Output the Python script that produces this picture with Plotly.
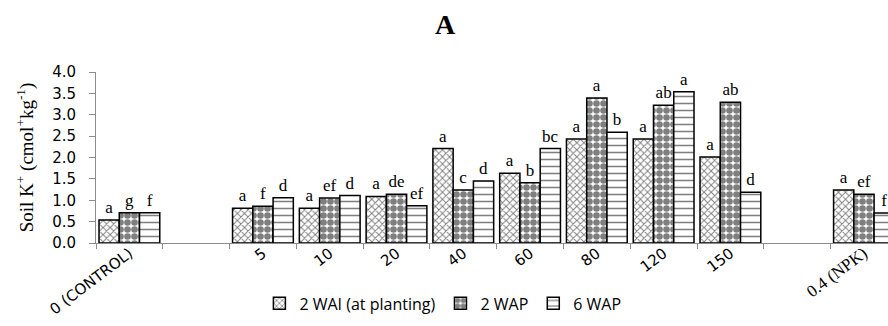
import plotly.graph_objects as go

categories = ["0 (CONTROL)", " ", "5", "10", "20", "40", "60", "80", "120", "150", "  ",
              '<span style="font-family:Liberation Serif;font-size:17px">0.4 (NPK)</span>']

wai2 = [0.54, None, 0.81, 0.81, 1.09, 2.21, 1.63, 2.43, 2.43, 2.01, None, 1.24]
wap2 = [0.71, None, 0.86, 1.05, 1.14, 1.24, 1.41, 3.39, 3.22, 3.29, None, 1.14]
wap6 = [0.71, None, 1.06, 1.11, 0.87, 1.45, 2.21, 2.59, 3.54, 1.19, None, 0.70]

lab_wai2 = ["a", None, "a", "a", "a", "a", "a", "a", "a", "a", None, "a"]
lab_wap2 = ["g", None, "f", "ef", "de", "c", "b", "a", "ab", "ab", None, "ef"]
lab_wap6 = ["f", None, "d", "d", "ef", "d", "bc", "b", "a", "d", None, "f"]

series = [
    ("2 WAI (at planting)", wai2, lab_wai2, dict(shape="x", size=5, solidity=0.35)),
    ("2 WAP", wap2, lab_wap2, dict(shape=".", size=7, solidity=0.7)),
    ("6 WAP", wap6, lab_wap6, dict(shape="-", size=7, solidity=0.22)),
]

fig = go.Figure()
for name, vals, labs, pat in series:
    fig.add_trace(go.Bar(
        name=name, x=categories, y=vals, text=labs,
        textposition="outside", constraintext="none", cliponaxis=False,
        textfont=dict(family="Liberation Serif", size=17, color="black"),
        marker=dict(color="white",
                    line=dict(color="black", width=1.5),
                    pattern=dict(fgcolor="black", bgcolor="white", fillmode="overlay", **pat)),
    ))

fig.update_layout(
    width=888, height=326,
    margin=dict(l=96, r=0, t=72, b=83),
    paper_bgcolor="white", plot_bgcolor="white",
    barmode="group", bargap=0.09, bargroupgap=0,
    showlegend=True,
    legend=dict(orientation="h", x=0.438, xanchor="center", y=-0.353, yanchor="middle",
                font=dict(family="Open Sans", size=16, color="black"),
                itemwidth=30, tracegroupgap=0),
    title=dict(text="<b>A</b>", x=445/888, xanchor="center",
               y=1 - 24/326, yanchor="middle",
               font=dict(family="Liberation Serif", size=28, color="black")),
)

fig.update_xaxes(
    type="category", categoryorder="array", categoryarray=categories,
    range=[-0.5, 11.36], tickson="boundaries", automargin=False,
    ticks="outside", ticklen=5, tickcolor="#8c8c8c", tickwidth=1,
    ticklabelstandoff=-5,
    showline=True, linecolor="#8c8c8c", linewidth=1,
    tickangle=-37, tickfont=dict(family="DejaVu Sans", size=15, color="black"),
    showgrid=False, zeroline=False,
)
fig.update_yaxes(
    range=[0, 4], dtick=0.5, tickformat=".1f", automargin=False,
    ticks="outside", ticklen=6, tickcolor="#8c8c8c", ticklabelstandoff=10,
    showline=True, linecolor="#8c8c8c", linewidth=1,
    tickfont=dict(family="DejaVu Sans", size=15, color="black"),
    showgrid=False, zeroline=False,
    title=dict(text="Soil K<sup>+</sup> (cmol<sup>+</sup>kg<sup>-1</sup>)",
               font=dict(family="Liberation Serif", size=19, color="black"), standoff=13),
)

fig.write_html("out.html", config={"displayModeBar": False},
               post_script="document.body.style.margin='0';document.body.style.padding='0';")
